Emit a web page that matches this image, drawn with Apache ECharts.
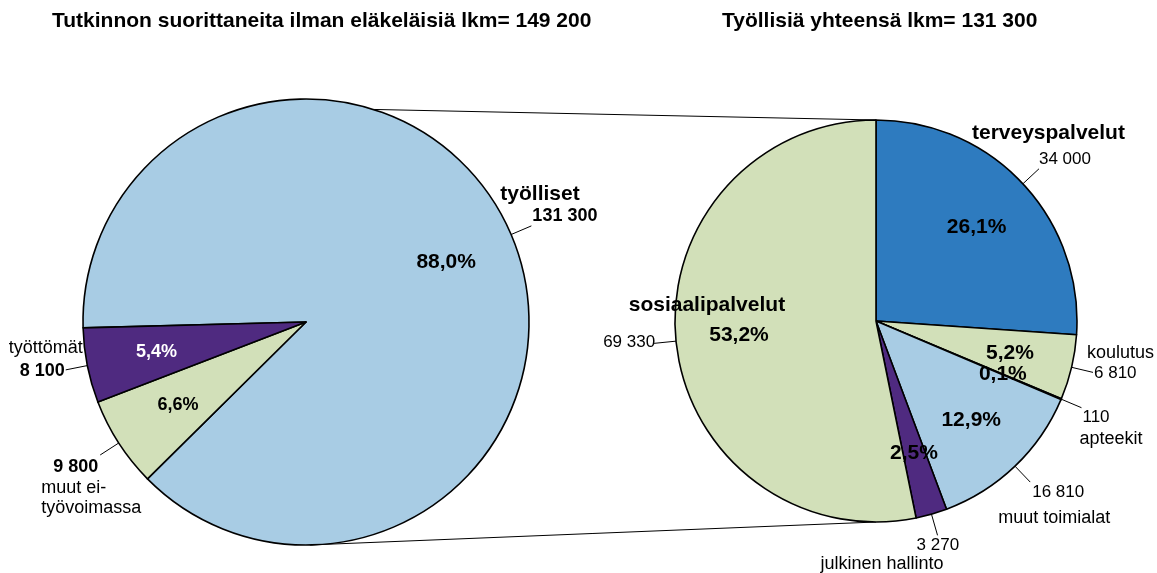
<!DOCTYPE html>
<html>
<head>
<meta charset="utf-8">
<script src="https://cdn.jsdelivr.net/npm/echarts@6/dist/echarts.min.js"></script>
<style>
  html, body { margin: 0; padding: 0; background: #fff; }
  #main { width: 1157px; height: 573px; }
</style>
</head>
<body>
<div id="main"></div>
<script>
// vasen piirakka: tutkinnon suorittaneet ilman eläkeläisiä
const leftNames = ['työlliset', 'muut ei-\ntyövoimassa', 'työttömät']
const leftValues = [131300, 9800, 8100]
const leftColors = ['#a8cce4', '#d2e0b9', '#4f2a80']

// oikea piirakka: työlliset toimialoittain
const rightNames = ['terveyspalvelut', 'koulutus', 'apteekit', 'muut toimialat', 'julkinen hallinto', 'sosiaalipalvelut']
const rightValues = [34000, 6810, 110, 16810, 3270, 69330]
const rightColors = ['#2e7bbf', '#d2e0b9', '#a8cce4', '#a8cce4', '#4f2a80', '#d2e0b9']

const titles = ['Tutkinnon suorittaneita ilman eläkeläisiä lkm= 149 200', 'Työllisiä yhteensä lkm= 131 300']

const FONT = '"Liberation Sans", Arial, Helvetica, sans-serif'
const leftCenter = [306, 322]
const leftR = 223
const rightCenter = [876, 321]
const rightR = 201

// tekstityylit: nb = nimi lihava, nr = nimi normaali, vb = arvo lihava, vr = arvo normaali
const fonts = { nb: [21, 'bold'], nr: [18, 'normal'], vb: [18, 'bold'], vr: [17, 'normal'] }

// selitteiden paikat suhteessa viivan päähän
const leftSpec = [
  { align: 'left', dx: -31, dy: -43, first: 'name', n: ['nb', 22], v: ['vb', 22, 32] },
  { align: 'left', dx: -59, dy: 2, first: 'val', n: ['nr', 20.5], v: ['vb', 20.5, 12] },
  { align: 'right', dx: 17, dy: -33.5, first: 'name', n: ['nr', 23], v: ['vb', 23, 18] }
]
const rightSpec = [
  { align: 'left', dx: -67, dy: -49, first: 'name', n: ['nb', 26], v: ['vr', 28, 67] },
  { align: 'left', dx: -6, dy: -29, first: 'name', n: ['nr', 20], v: ['vr', 20, 7] },
  { align: 'left', dx: -2, dy: -1.5, first: 'val', n: ['nr', 22], v: ['vr', 22, 3] },
  { align: 'left', dx: -32, dy: -2, first: 'val', n: ['nr', 25], v: ['vr', 25, 34] },
  { align: 'left', dx: -117, dy: 0, first: 'val', n: ['nr', 19], v: ['vr', 19, 96] },
  { align: 'right', dx: 131, dy: -50, first: 'name', n: ['nb', 24], v: ['vr', 50, 130] }
]
const leftPct = [[21, '#000'], [18, '#000'], [18, '#fff']]
const rightPct = [[21, '#000'], [21, '#000'], [21, '#000'], [21, '#000'], [21, '#000'], [21, '#000']]

function fmt(v) {
  return String(v).replace(/\B(?=(\d{3})+(?!\d))/g, ' ')
}

function makeLabel(name, value, spec) {
  const pad = spec.v[2] || 0
  const rich = {
    n: { fontFamily: FONT, fontSize: fonts[spec.n[0]][0], fontWeight: fonts[spec.n[0]][1], lineHeight: spec.n[1], color: '#000', align: spec.align },
    v: {
      fontFamily: FONT, fontSize: fonts[spec.v[0]][0], fontWeight: fonts[spec.v[0]][1], lineHeight: spec.v[1], color: '#000', align: spec.align,
      padding: spec.align === 'left' ? [0, 0, 0, pad] : [0, pad, 0, 0]
    }
  }
  const n = '{n|' + name + '}'
  const v = '{v|' + fmt(value) + '}'
  return { formatter: spec.first === 'name' ? n + '\n' + v : v + '\n' + n, rich }
}

function mainSeries(names, values, colors, specs, center, r, startAngle) {
  return {
    type: 'pie',
    center,
    radius: [0, r],
    startAngle,
    clockwise: true,
    avoidLabelOverlap: false,
    silent: true,
    itemStyle: { borderColor: '#000', borderWidth: 1.6 },
    label: { show: true, position: 'outside' },
    labelLine: { show: true, length: 22, length2: 0, smooth: false, lineStyle: { color: '#000', width: 1 } },
    labelLayout: params => {
      const s = specs[params.dataIndex]
      const pts = params.labelLinePoints
      const p1 = pts[1]
      return {
        x: p1[0] + s.dx,
        y: p1[1] + s.dy,
        align: s.align,
        verticalAlign: 'top',
        labelLinePoints: [pts[0], p1]
      }
    },
    data: values.map((v, i) => ({
      value: v,
      name: names[i],
      itemStyle: { color: colors[i] },
      label: makeLabel(names[i], v, specs[i])
    }))
  }
}

// prosentit erillisellä läpinäkyvällä kerroksella, jotta ne osuvat 2/3 säteelle
function pctSeries(names, values, pct, center, r, startAngle) {
  return {
    type: 'pie',
    center,
    radius: [0, r * 1.34],
    startAngle,
    clockwise: true,
    avoidLabelOverlap: false,
    silent: true,
    itemStyle: { color: 'rgba(0,0,0,0)', borderWidth: 0 },
    labelLine: { show: false },
    data: values.map((v, i) => ({
      value: v,
      name: names[i],
      label: {
        show: true,
        position: 'inside',
        fontFamily: FONT,
        fontWeight: 'bold',
        fontSize: pct[i][0],
        color: pct[i][1],
        formatter: p => p.percent.toFixed(1).replace('.', ',') + '%'
      }
    }))
  }
}

function polar(c, r, deg) {
  const a = deg * Math.PI / 180
  return [c[0] + r * Math.cos(a), c[1] - r * Math.sin(a)]
}

const topA = polar(leftCenter, leftR, 72.4)
const topB = polar(rightCenter, rightR, 90)
const botA = polar(leftCenter, leftR, -89)
const botB = polar(rightCenter, rightR, -90)

const chart = echarts.init(document.getElementById('main'))
chart.setOption({
  animation: false,
  backgroundColor: '#fff',
  title: [
    { text: titles[0], left: 52, top: 9, padding: 0, textStyle: { fontFamily: FONT, fontSize: 21, fontWeight: 'bold', color: '#000', lineHeight: 24 } },
    { text: titles[1], left: 722, top: 9, padding: 0, textStyle: { fontFamily: FONT, fontSize: 21, fontWeight: 'bold', color: '#000', lineHeight: 24 } }
  ],
  graphic: [
    { type: 'line', z: -1, shape: { x1: topA[0], y1: topA[1], x2: topB[0], y2: topB[1] }, style: { stroke: '#000', lineWidth: 1 } },
    { type: 'line', z: -1, shape: { x1: botA[0], y1: botA[1], x2: botB[0], y2: botB[1] }, style: { stroke: '#000', lineWidth: 1 } }
  ],
  series: [
    mainSeries(leftNames, leftValues, leftColors, leftSpec, leftCenter, leftR, 181.5),
    mainSeries(rightNames, rightValues, rightColors, rightSpec, rightCenter, rightR, 90),
    pctSeries(leftNames, leftValues, leftPct, leftCenter, leftR, 181.5),
    pctSeries(rightNames, rightValues, rightPct, rightCenter, rightR, 90)
  ]
})
</script>
</body>
</html>
